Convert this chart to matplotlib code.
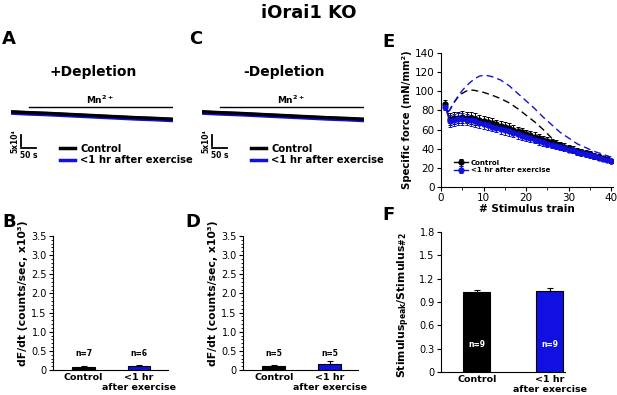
"""
iOrai1 KO figure: Mn2+ quench traces (A, C), dF/dt bars (B, D),
specific force vs stimulus train (E) and peak/#2 ratio (F).
"""
import numpy as np
import matplotlib
matplotlib.use('Agg')
import matplotlib.pyplot as plt
from matplotlib.lines import Line2D

plt.rcParams['font.family'] = ['DejaVu Sans']

W, H = 617, 395
BLUE = '#1010e0'

# --- traces (A, C): time in s, fluorescence in 1e4 counts (relative) ---
trace_t = [0, 60, 120, 180, 240, 300, 360, 420, 480, 540]
trace_ctrl = [-7.6, -8.0, -8.3, -8.7, -9.1, -9.5, -9.9, -10.3, -10.6, -11.0]
trace_ex = [-8.0, -8.4, -8.7, -9.1, -9.5, -9.9, -10.3, -10.7, -11.0, -11.4]

# --- bars (B, D, F) ---
groups = ['Control', '<1 hr\nafter exercise']
B_vals, B_err, B_n = [0.08, 0.10], [0.03, 0.04], ['n=7', 'n=6']
D_vals, D_err, D_n = [0.11, 0.16], [0.02, 0.07], ['n=5', 'n=5']
F_vals, F_err, F_n = [1.03, 1.04], [0.02, 0.04], ['n=9', 'n=9']

# --- E: specific force ---
train = list(range(1, 41))
force_ctrl = [87, 71, 72, 72.5, 73, 72.5, 72, 71, 70, 69, 68, 67, 65.5, 64, 63,
              61.5, 60, 58.5, 57, 55.5, 54, 52.5, 51, 49.5, 48, 46.5, 45, 43.5,
              42, 40.5, 39, 37.5, 36.5, 35, 34, 32.5, 31, 30, 29, 27]
force_ctrl_err = [4, 6, 6, 6, 6, 6, 6, 6, 5.5, 5.5, 5.5, 5.5, 5, 5, 5, 5, 5,
                  4.5, 4.5, 4.5, 4.5, 4.5, 4, 4, 4, 4, 4, 3.5, 3.5, 3.5, 3.5,
                  3, 3, 3, 3, 3, 3, 2.5, 2.5, 2.5]
force_ex = [84, 69, 70, 71, 71, 70.5, 69.5, 68.5, 67, 66, 64.5, 63, 62, 60.5,
            59, 58, 56.5, 55, 53.5, 52, 51, 49.5, 48, 46.5, 45, 44, 43, 41.5,
            40.5, 39, 38, 36.5, 35.5, 34, 33, 32, 30.5, 29.5, 28.5, 27]
force_ex_err = [4, 6, 6, 6, 6, 6, 6, 5.5, 5.5, 5.5, 5, 5, 5, 5, 5, 4.5, 4.5,
                4.5, 4.5, 4, 4, 4, 4, 4, 3.5, 3.5, 3.5, 3.5, 3, 3, 3, 3, 3, 3,
                3, 2.5, 2.5, 2.5, 2.5, 2.5]
# dashed reference curves
dash_ctrl_x = [1.6, 2, 3, 4, 5, 6, 7, 8, 9, 10, 12, 14, 16, 18, 20, 22, 24, 26, 27]
dash_ctrl_y = [79, 80, 88, 94, 98, 100.5, 101.5, 101, 100, 99, 96, 92.5, 88,
               82, 75, 68, 60, 51, 47]
dash_ex_x = [1.6, 2, 3, 4, 5, 6, 7, 8, 9, 10, 11, 12, 14, 16, 18, 20, 22, 24,
             26, 28, 30, 32, 34, 36, 38, 40]
dash_ex_y = [79, 80, 88, 95, 101, 106, 110, 113.5, 116, 117, 116.5, 115.5, 112,
             106, 98, 90, 82, 73, 65, 57, 51, 45, 41, 37, 34, 31]


def px_axes(fig, left, top, right, bottom):
    return fig.add_axes([left / W, 1 - bottom / H, (right - left) / W,
                         (bottom - top) / H])


def style(ax, size=7):
    ax.spines['top'].set_visible(False)
    ax.spines['right'].set_visible(False)
    ax.tick_params(direction='out', length=3, width=0.8, labelsize=size, pad=1.5)


fig = plt.figure(figsize=(W / 100, H / 100), dpi=100)

fig.text(0.5, 1 - 13 / H, 'iOrai1 KO', ha='center', va='center',
         fontsize=13, fontweight='bold')
for lbl, x, y in [('A', 2, 39), ('C', 189, 39), ('E', 382, 42),
                  ('B', 2, 222), ('D', 185, 222), ('F', 382, 215)]:
    fig.text(x / W, 1 - y / H, lbl, ha='left', va='center',
             fontsize=13, fontweight='bold')


def trace_panel(x0, title, title_x):
    fig.text(title_x / W, 1 - 72 / H, title, ha='center', va='center',
             fontsize=10, fontweight='bold')
    ax = px_axes(fig, x0, 95, x0 + 162, 165)
    ax.set_xlim(0, 540)
    ax.set_ylim(-31.8, 0)
    ax.axis('off')
    ax.plot(trace_t, trace_ex, color=BLUE, lw=3.2, solid_capstyle='butt')
    ax.plot(trace_t, trace_ctrl, color='black', lw=2.4, solid_capstyle='butt')
    ax.plot([60, 540], [-5.5, -5.5], color='black', lw=1)
    ax.text(297, -2.0, r'$\mathbf{Mn^{2+}}$', ha='center', va='center', fontsize=6.5)
    # scale bars
    ax.plot([33, 33], [-18.2, -23.2], color='black', lw=1.3, clip_on=False)
    ax.plot([33, 83], [-24.1, -24.1], color='black', lw=1.3, clip_on=False)
    ax.text(58, -27.6, '50 s', ha='center', va='center', fontsize=5.5,
            fontweight='bold')
    ax.text(14, -20.7, '5x10⁴', ha='center', va='center', fontsize=5.5,
            fontweight='bold', rotation=90)
    handles = [Line2D([], [], color='black', lw=2.5),
               Line2D([], [], color=BLUE, lw=2.5)]
    ax.legend(handles, ['Control', '<1 hr after exercise'], frameon=False,
              loc='upper left', bbox_to_anchor=(0.28, 0.36), handlelength=1.5,
              handletextpad=0.5, labelspacing=0.15, borderaxespad=0,
              prop={'weight': 'bold', 'size': 7.2})


trace_panel(11, '+Depletion', 93)
trace_panel(202, '-Depletion', 284)


def bar_panel(ax, vals, errs, ns, ymax, step, n_y, n_color, xlim, width,
              ylabel, minor=None, label_x=-0.24, label_y=0.5):
    style(ax, 7)
    x = np.arange(len(vals))
    ax.bar(x, vals, width=width, color=['black', BLUE], edgecolor='black',
           linewidth=0.8, zorder=2)
    ax.errorbar(x, vals, yerr=[[0, 0], errs], fmt='none', ecolor='black',
                elinewidth=0.8, capsize=2.5, capthick=0.8, zorder=3)
    for xi, n in zip(x, ns):
        ax.text(xi, n_y, n, ha='center', va='center', fontsize=5.5,
                fontweight='bold', color=n_color, zorder=4)
    ax.set_xlim(*xlim)
    ax.set_ylim(0, ymax)
    ticks = np.round(np.arange(0, ymax + step / 2, step), 2)
    ax.set_yticks(ticks)
    ax.set_yticklabels(['0'] + [f'{t:.1f}' for t in ticks[1:]])
    if minor:
        ax.set_yticks(np.round(np.arange(0, ymax, minor), 3), minor=True)
        ax.tick_params(axis='y', which='minor', length=1.8, width=0.6)
    ax.set_xticks(x)
    ax.set_xticklabels(groups, fontsize=6.8, fontweight='bold', linespacing=1.05)
    ax.tick_params(axis='x', length=0, pad=2.5)
    ax.set_ylabel(ylabel, fontsize=7.8, fontweight='bold', labelpad=2)
    ax.yaxis.set_label_coords(label_x, label_y)


dfdt_label = 'dF/dt (counts/sec, x10³)'
axB = px_axes(fig, 53, 236, 168, 370)
bar_panel(axB, B_vals, B_err, B_n, 3.5, 0.5, 0.44, 'black', (-0.55, 1.52),
          0.41, dfdt_label, minor=0.1, label_x=-0.22, label_y=0.57)
axD = px_axes(fig, 243, 236, 358, 370)
bar_panel(axD, D_vals, D_err, D_n, 3.5, 0.5, 0.44, 'black', (-0.55, 1.5),
          0.41, dfdt_label, minor=0.1, label_x=-0.22, label_y=0.57)
axF = px_axes(fig, 441, 232, 565, 372)
bar_panel(axF, F_vals, F_err, F_n, 1.8, 0.3, 0.35, 'white', (-0.49, 1.21),
          0.37, r'Stimulus$_{\mathbf{peak}}$/Stimulus$_{\mathbf{\#2}}$',
          label_x=-0.23, label_y=0.48)

# --- E ---
axE = px_axes(fig, 441, 53.3, 613, 186.7)
style(axE, 7.5)
axE.plot(dash_ctrl_x, dash_ctrl_y, color='black', lw=1, ls=(0, (5, 3)))
axE.plot(dash_ex_x, dash_ex_y, color=BLUE, lw=1, ls=(0, (5, 3)))
axE.errorbar(train, force_ctrl, yerr=force_ctrl_err, color='black', marker='o',
             ms=3.5, lw=1, elinewidth=0.7, capsize=1.5, capthick=0.7,
             label='Control')
axE.errorbar(train, force_ex, yerr=force_ex_err, color=BLUE, marker='o',
             ms=3.5, lw=1, elinewidth=0.7, capsize=1.5, capthick=0.7,
             label='<1 hr after exercise')
axE.set_xlim(0, 40.4)
axE.set_ylim(0, 140)
axE.set_xticks([0, 10, 20, 30, 40])
axE.set_xticks([5, 15, 25, 35], minor=True)
axE.set_yticks(range(0, 141, 20))
axE.tick_params(which='minor', length=1.8, width=0.6)
axE.set_xlabel('# Stimulus train', fontsize=7.5, fontweight='bold', labelpad=1)
axE.set_ylabel('Specific force (mN/mm²)', fontsize=7.3, fontweight='bold',
               labelpad=2)
axE.legend(frameon=False, loc='lower left', bbox_to_anchor=(0.06, 0.08),
           handlelength=2.0, handletextpad=0.4, labelspacing=0.2,
           borderaxespad=0, prop={'weight': 'bold', 'size': 5})

fig.savefig('out.png', dpi=100)
